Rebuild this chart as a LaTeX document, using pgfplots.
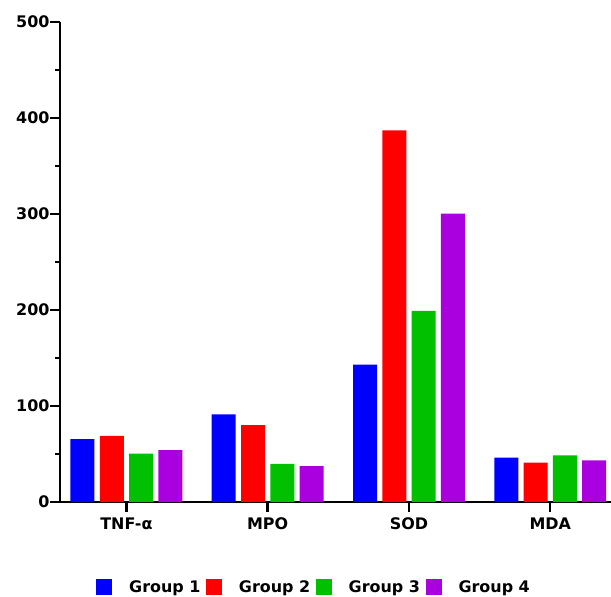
\documentclass[border=0pt]{standalone}
\usepackage{fontspec}
\setmainfont{DejaVu Sans}
\usepackage{pgfplots}
\pgfplotsset{compat=1.18}
\definecolor{g1}{RGB}{0,0,255}
\definecolor{g2}{RGB}{255,0,0}
\definecolor{g3}{RGB}{0,192,0}
\definecolor{g4}{RGB}{170,0,224}
\begin{document}
\begin{tikzpicture}
\useasboundingbox (-60bp,-95bp) rectangle (551bp,502bp);
\begin{axis}[
  at={(0,0)}, anchor=south west,
  scale only axis, width=551bp, height=480bp,
  ybar=5.3bp, bar width=24bp,
  xmin=-0.47, xmax=3.43,
  ymin=0, ymax=500,
  xtick={0,1,2,3},
  xticklabels={TNF-α,MPO,SOD,MDA},
  ytick={0,100,200,300,400,500},
  minor ytick={50,150,250,350,450},
  axis x line*=bottom, axis y line*=left,
  axis line style={line width=2.8bp},
  major tick style={line width=2.4bp, black},
  minor tick style={line width=2.4bp, black},
  tick align=outside,
  major tick length=9.5bp, minor tick length=5bp,
  ticklabel style={font=\fontsize{16}{19}\selectfont\bfseries},
  yticklabel style={xshift=2.5bp},
  xticklabel style={yshift=-3bp},
  /pgf/number format/assume math mode=true,
  separate axis lines,
  x axis line style={-}, y axis line style={-},
  legend columns=4,
  legend style={draw=none, fill=none, at={(0.461,-0.177)}, anchor=center,
    font=\fontsize{16}{19}\selectfont\bfseries,
    /tikz/every odd column/.append style={column sep=15bp},
    /tikz/every even column/.append style={column sep=3.5bp}},
  legend image code/.code={\fill[#1] (0bp,-8bp) rectangle (16bp,8bp);},
  clip=false,
]
\addplot[fill=g1, draw=none] coordinates {(0,65.6) (1,91.3) (2,143) (3,46.2)};
\addplot[fill=g2, draw=none] coordinates {(0,69) (1,80.2) (2,387) (3,41)};
\addplot[fill=g3, draw=none] coordinates {(0,50.3) (1,39.6) (2,199) (3,48.6)};
\addplot[fill=g4, draw=none] coordinates {(0,54) (1,37.5) (2,300.5) (3,43.4)};
\legend{Group 1,Group 2,Group 3,Group 4}
\end{axis}
\end{tikzpicture}
\end{document}
